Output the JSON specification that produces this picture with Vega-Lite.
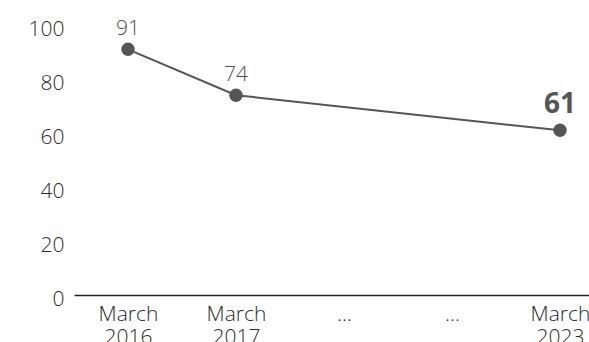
{
  "$schema": "https://vega.github.io/schema/vega-lite/v6.json",
  "autosize": {"type": "none"},
  "width": 515,
  "height": 270,
  "padding": {"left": 74, "top": 25, "right": 0, "bottom": 47},
  "config": {
    "view": {"stroke": null},
    "font": "Open Sans"
  },
  "data": {
    "values": [
      {"period": "March 2016", "value": 91},
      {"period": "March 2017", "value": 74},
      {"period": "March 2023", "value": 61}
    ]
  },
  "encoding": {
    "x": {
      "field": "period",
      "type": "ordinal",
      "sort": null,
      "scale": {
        "type": "point",
        "domain": ["March 2016", "March 2017", "...", "....", "March 2023"],
        "range": [0, 540],
        "padding": 0.5
      },
      "axis": {
        "title": null,
        "labelAngle": 0,
        "ticks": false,
        "domain": true,
        "domainColor": "#222222",
        "domainWidth": 1.5,
        "labelPadding": 8,
        "labelFontSize": 21,
        "labelFontWeight": 350,
        "labelLineHeight": 23,
        "labelColor": "#2b2b2b",
        "labelBaseline": "top",
        "labelExpr": "test(/^\\./, datum.value) ? '...' : split(datum.value, ' ')",
        "grid": false
      }
    },
    "y": {
      "field": "value",
      "type": "quantitative",
      "scale": {"domain": [0, 100], "nice": false},
      "axis": {
        "title": null,
        "values": [0, 20, 40, 60, 80, 100],
        "domain": false,
        "ticks": false,
        "grid": false,
        "labelPadding": 10,
        "labelOffset": 4,
        "labelFontSize": 21,
        "labelFontWeight": 350,
        "labelColor": "#2b2b2b"
      }
    }
  },
  "layer": [
    {"mark": {"type": "line", "color": "#555555", "strokeWidth": 2}},
    {"mark": {"type": "point", "filled": true, "opacity": 1, "color": "#555555", "size": 180}},
    {
      "transform": [{"filter": "datum.period != 'March 2023'"}],
      "mark": {"type": "text", "dy": -20, "fontSize": 21, "fontWeight": 350, "color": "#505050"},
      "encoding": {"text": {"field": "value", "type": "quantitative"}}
    },
    {
      "transform": [{"filter": "datum.period == 'March 2023'"}],
      "mark": {"type": "text", "dy": -25, "fontSize": 28, "fontWeight": "bold", "color": "#555555"},
      "encoding": {"text": {"field": "value", "type": "quantitative"}}
    }
  ]
}
